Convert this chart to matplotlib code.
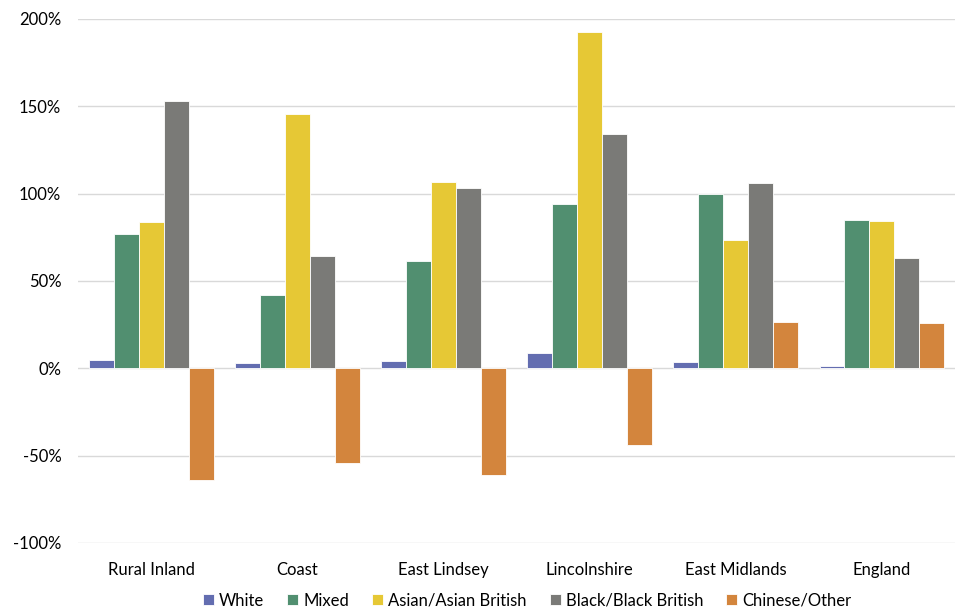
import matplotlib
import numpy as np

matplotlib.use('Agg')
import matplotlib.pyplot as plt
from matplotlib.ticker import FuncFormatter

plt.rcParams['font.family'] = ['Lato', 'DejaVu Sans']

categories = ['Rural Inland', 'Coast', 'East Lindsey', 'Lincolnshire', 'East Midlands', 'England']
series_names = ['White', 'Mixed', 'Asian/Asian British', 'Black/Black British', 'Chinese/Other']
white = [4.9, 2.9, 4.4, 8.8, 3.6, 1.3]
mixed = [76.9, 42.0, 61.2, 94.0, 100.0, 85.1]
asian = [83.7, 145.4, 106.4, 192.7, 73.3, 84.3]
black = [152.8, 64.3, 103.0, 134.1, 105.9, 63.0]
chinese = [-63.9, -54.4, -61.1, -43.9, 26.5, 25.8]
y_ticks = [-100, -50, 0, 50, 100, 150, 200]

colors = ['#636db0', '#518f70', '#e6c835', '#7a7a77', '#d3853d']
values = [white, mixed, asian, black, chinese]

fig = plt.figure(figsize=(9.57, 6.11), dpi=100)
ax = fig.add_axes([0.0815, 0.1113, 0.9165, 0.8577])

x = np.arange(len(categories))
width = 0.171
for i, (name, vals, col) in enumerate(zip(series_names, values, colors)):
    offset = (i - 2) * width
    ax.bar(x + offset, vals, width=width, color=col, edgecolor='white',
           linewidth=0.6, label=name, zorder=3)

ax.set_xlim(-0.5, len(categories) - 0.5)
ax.set_ylim(-100, 200)
ax.set_yticks(y_ticks)
ax.yaxis.set_major_formatter(FuncFormatter(lambda v, _: f'{v:.0f}%'))
ax.set_xticks(x)
ax.set_xticklabels(categories)

ax.grid(axis='y', color='#d9d9d9', linewidth=1, zorder=0)
for side in ['top', 'right', 'left', 'bottom']:
    ax.spines[side].set_visible(False)
ax.tick_params(axis='both', length=0, labelsize=12, colors='#000000')
ax.tick_params(axis='y', pad=12)
ax.tick_params(axis='x', pad=14)

ax.legend(loc='center', bbox_to_anchor=(0.512, -0.11), ncol=5, frameon=False,
          fontsize=12, handlelength=0.65, handleheight=0.65, handletextpad=0.3,
          columnspacing=1.4, borderpad=0.2)

plt.savefig('out.png', dpi=100)
plt.close()
